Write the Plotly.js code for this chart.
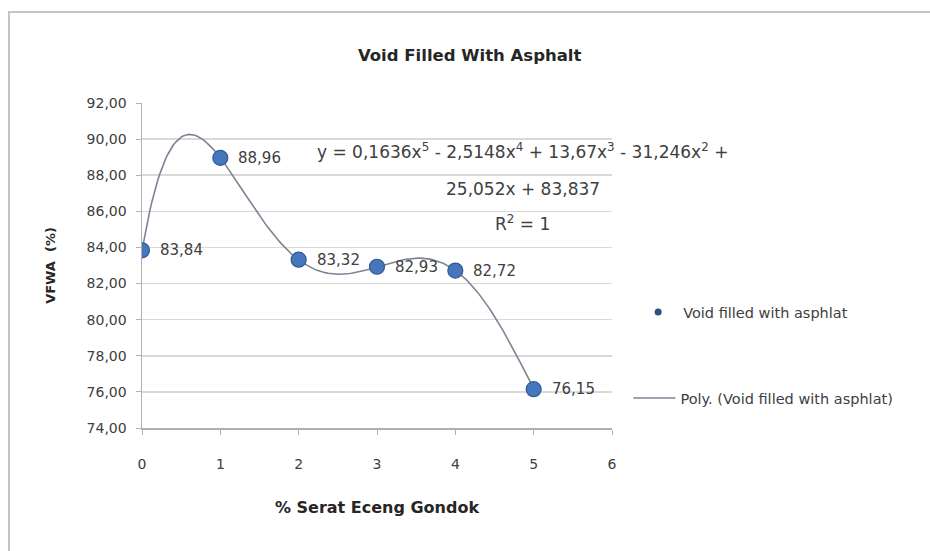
<!DOCTYPE html>
<html>
<head>
<meta charset="utf-8">
<script src="https://cdn.plot.ly/plotly-3.0.1.min.js"></script>
<style>
  html, body { margin: 0; padding: 0; background: #ffffff; }
  #wrap { position: relative; width: 930px; height: 551px; overflow: hidden; }
  #chart { position: absolute; left: 0; top: 0; width: 930px; height: 551px; }
  /* chart-area frame: top and left edges only */
  #frame { position: absolute; left: 8px; top: 11px; width: 940px; height: 560px;
           border-top: 2px solid #c4c4c4; border-left: 2px solid #c4c4c4; pointer-events: none; }
</style>
</head>
<body>
<div id="wrap">
  <div id="chart"></div>
  <div id="frame"></div>
</div>
<script>
// Fibre content (% Serat Eceng Gondok) and measured VFWA (%)
const fibrePct = [0, 1, 2, 3, 4, 5];
const vfwa = [83.84, 88.96, 83.32, 82.93, 82.72, 76.15];

// 5th-order polynomial trendline coefficients, highest power first
const polyCoef = [0.1636, -2.5148, 13.67, -31.246, 25.052, 83.837];
const eqLines = [
  'y = 0,1636x<sup>5</sup> - 2,5148x<sup>4</sup> + 13,67x<sup>3</sup> - 31,246x<sup>2</sup> +',
  '25,052x + 83,837',
  'R<sup>2</sup> = 1'
];

const seriesName = 'Void filled with asphlat';
const trendName = 'Poly. (Void filled with asphlat)';
const yTicks = [74, 76, 78, 80, 82, 84, 86, 88, 90, 92];
const xTicks = [0, 1, 2, 3, 4, 5, 6];

const fmt = v => v.toFixed(2).replace('.', ',');

// evaluate the trendline over the data span
function polyEval(c, x) { return c.reduce((acc, k) => acc * x + k, 0); }
const xs = [], ys = [];
const x0 = fibrePct[0], x1 = fibrePct[fibrePct.length - 1];
for (let i = 0; i <= 200; i++) {
  const x = x0 + (x1 - x0) * i / 200;
  xs.push(x); ys.push(polyEval(polyCoef, x));
}

const FONT = '"DejaVu Sans", sans-serif';
const TXT = '#404040';
const DARK = '#262626';

const traces = [
  { x: xs, y: ys, type: 'scatter', mode: 'lines', name: trendName,
    line: { color: '#7b8594', width: 1.6 }, legend: 'legend2', hoverinfo: 'skip' },
  { x: fibrePct, y: vfwa, type: 'scatter', mode: 'markers', name: seriesName,
    marker: { size: 15, color: '#4677bd', line: { color: '#2e5a98', width: 1.2 } },
    showlegend: false },
  // legend entry with the small legend marker
  { x: [null], y: [null], type: 'scatter', mode: 'markers', name: seriesName,
    marker: { size: 7, color: '#2f4f7f' }, legend: 'legend' }
];

const annotations = fibrePct.map((x, i) => ({
  x: x, y: vfwa[i], xref: 'x', yref: 'y', text: fmt(vfwa[i]), showarrow: false,
  xanchor: 'left', yanchor: 'middle', xshift: 16,
  font: { family: FONT, size: 15, color: TXT }
}));
const eqY = [0.852, 0.736, 0.63];
eqLines.forEach((t, i) => annotations.push({
  x: 0.81, y: eqY[i], xref: 'paper', yref: 'paper', text: t, showarrow: false,
  xanchor: 'center', yanchor: 'middle', font: { family: FONT, size: 17, color: TXT }
}));

const layout = {
  width: 930, height: 551,
  margin: { l: 142, r: 318, t: 103, b: 123 },
  paper_bgcolor: 'rgba(0,0,0,0)', plot_bgcolor: '#ffffff',
  separators: ', ',
  font: { family: FONT, color: TXT },
  title: { text: '<b>Void Filled With Asphalt</b>', x: 0.505, xref: 'container', xanchor: 'center',
           y: 0.9, yanchor: 'middle', font: { family: FONT, size: 16.5, color: DARK } },
  xaxis: {
    range: [0, 6], tickvals: xTicks, ticks: 'outside', ticklen: 5, tickcolor: '#b0b0b0',
    showgrid: false, zeroline: false, showline: true, linecolor: '#b0b0b0', linewidth: 1.5,
    tickfont: { family: FONT, size: 14, color: TXT }, ticklabelstandoff: 18,
    title: { text: '<b>% Serat Eceng Gondok</b>', standoff: 30,
             font: { family: FONT, size: 16, color: DARK } }
  },
  yaxis: {
    range: [74, 92], tickvals: yTicks, tickformat: '.2f', ticks: 'outside', ticklen: 5,
    tickcolor: '#b0b0b0', showgrid: true, gridcolor: '#d9d9d9', gridwidth: 1.5,
    zeroline: false, showline: true, linecolor: '#b0b0b0', linewidth: 1.5,
    tickfont: { family: FONT, size: 14, color: TXT }, ticklabelstandoff: 6,
    title: { text: '<b>VFWA  (%)</b>', standoff: 28,
             font: { family: FONT, size: 13, color: DARK } }
  },
  legend: { x: 1.045, y: 0.357, xanchor: 'left', yanchor: 'middle', bgcolor: 'rgba(0,0,0,0)',
            itemwidth: 40, font: { family: FONT, size: 14.5, color: TXT } },
  legend2: { x: 1.035, y: 0.092, xanchor: 'left', yanchor: 'middle', bgcolor: 'rgba(0,0,0,0)',
             itemwidth: 42, font: { family: FONT, size: 14.5, color: TXT } },
  annotations: annotations,
  showlegend: true
};

Plotly.newPlot('chart', traces, layout, { staticPlot: true });
</script>
</body>
</html>
